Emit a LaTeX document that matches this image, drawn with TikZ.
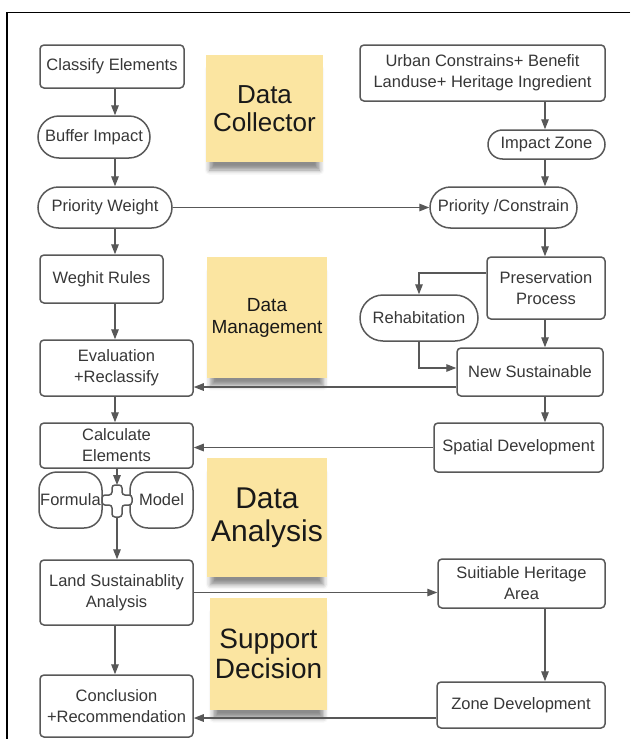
\documentclass[tikz,border=0pt]{standalone}
\usepackage{fontspec}
\setmainfont{Liberation Sans}
\usetikzlibrary{arrows.meta,shadows.blur}
\definecolor{edgegray}{RGB}{88,88,88}
\definecolor{textgray}{RGB}{55,55,55}
\definecolor{stickyyellow}{RGB}{251,229,161}

\begin{document}
\begin{tikzpicture}[x=1pt, y=-1pt,
		base/.style={draw=edgegray, line width=1.5pt, align=center, text=textgray, inner sep=1pt, font=\fontsize{16.5}{21}\selectfont},
		box/.style={base, rounded corners=4pt},
		pill/.style={base, rounded corners=#1},
		pill/.default=20.5pt,
		note/.style={fill=stickyyellow, align=center, text=black!90, inner sep=0pt,
			blur shadow={shadow xshift=0pt, shadow yshift=-12pt, shadow blur radius=5pt, shadow opacity=45, shadow scale=0.94}},
		link/.style={draw=edgegray, line width=1.4pt, -{Triangle[length=10pt, width=7.5pt]}},
	]
	\useasboundingbox (0,0) rectangle (630,739);
	\draw[line width=1.6pt] (630,12.5) -- (7,12.5) -- (7,739);

	% sticky notes
	\node[note, minimum width=117pt, minimum height=107pt, font=\fontsize{26}{28}\selectfont] (collector) at (264.5,108.5) {Data\\Collector};
	\node[note, minimum width=120pt, minimum height=121pt, font=\fontsize{19}{22}\selectfont] (management) at (267,317.5) {Data\\Management};
	\node[note, minimum width=120pt, minimum height=119pt, font=\fontsize{30}{33}\selectfont] (analysis) at (267,517.5) {Data\\Analysis};
	\node[note, minimum width=117pt, minimum height=112pt, font=\fontsize{28}{30}\selectfont] (support) at (268.5,654) {Support\\Decision};

	\node[box, minimum width=144pt, minimum height=43pt] (classify) at (112,66.5) {Classify Elements};
	\node[pill=21pt, minimum width=112pt, minimum height=42pt] (buffer) at (94,137) {Buffer Impact};
	\node[pill, minimum width=134pt, minimum height=41pt] (prioW) at (105,207.5) {Priority Weight};
	\node[box, minimum width=123pt, minimum height=48pt] (rules) at (101.5,279) {Weghit Rules};
	\node[box, minimum width=153pt, minimum height=56pt] (evaluation) at (116.5,368) {Evaluation\\+Reclassify};
	\node[box, minimum width=153pt, minimum height=45pt] (calculate) at (116.5,445.5) {Calculate\\Elements};
	\node[base, rounded corners=18pt, minimum width=63pt, minimum height=56pt, inner sep=0pt] (formula) at (70.5,500) {Formula};
	\node[base, rounded corners=18pt, minimum width=63pt, minimum height=56pt, inner sep=0pt] (model) at (161.5,500) {Model};
	\node[box, minimum width=153pt, minimum height=65pt] (land) at (116.5,592.5) {Land Sustainablity\\Analysis};
	\node[box, minimum width=153pt, minimum height=62pt] (conclusion) at (116.5,706) {Conclusion\\+Recommendation};

	\node[box, minimum width=245pt, minimum height=56pt] (urban) at (482.5,73) {Urban Constrains+ Benefit\\Landuse+ Heritage Ingredient};
	\node[pill=14.5pt, minimum width=117pt, minimum height=29pt] (impact) at (546.5,144.5) {Impact Zone};
	\node[pill, minimum width=147pt, minimum height=41pt] (prioC) at (503.5,207.5) {Priority /Constrain};
	\node[box, minimum width=118pt, minimum height=62pt] (preservation) at (546,288) {Preservation\\Process};
	\node[pill=23pt, minimum width=118pt, minimum height=46pt] (rehab) at (419,318) {Rehabitation};
	\node[box, minimum width=146pt, minimum height=48pt] (newsus) at (530,372) {New Sustainable};
	\node[box, minimum width=169pt, minimum height=49pt] (spatial) at (518.5,447.5) {Spatial Development};
	\node[box, minimum width=167pt, minimum height=49pt] (suitable) at (521.5,583.5) {Suitiable Heritage\\Area};
	\node[box, minimum width=168pt, minimum height=46pt] (zone) at (521,705) {Zone Development};

	\coordinate (lx) at (115,0);
	\coordinate (rx) at (545,0);
	\coordinate (hub) at (117,500);

	% junction between formula and model
	\draw[draw=edgegray, line width=1.5pt, fill=white, rounded corners=3pt] (hub) ++(-5,-15) -- ++(10,0) -- ++(0,10) -- ++(10,0) -- ++(0,10) -- ++(-10,0) -- ++(0,12) -- ++(-10,0) -- ++(0,-12) -- ++(-10,0) -- ++(0,-10) -- ++(10,0) -- cycle;

	\draw[link] (lx |- classify.south) -- (lx |- buffer.north);
	\draw[link] (lx |- buffer.south) -- (lx |- prioW.north);
	\draw[link] (lx |- prioW.south) -- (lx |- rules.north);
	\draw[link] (lx |- rules.south) -- (lx |- evaluation.north);
	\draw[link] (lx |- evaluation.south) -- (lx |- calculate.north);
	\draw[link] (hub |- calculate.south) -- ([yshift=15pt]hub);
	\draw[link] ([yshift=-17pt]hub) -- (hub |- land.north);
	\draw[link] (lx |- land.south) -- (lx |- conclusion.north);

	\draw[link] (rx |- urban.south) -- (rx |- impact.north);
	\draw[link] (rx |- impact.south) -- (rx |- prioC.north);
	\draw[link] (rx |- prioC.south) -- (rx |- preservation.north);
	\draw[link] (rx |- preservation.south) -- (rx |- newsus.north);
	\draw[link] (rx |- newsus.south) -- (rx |- spatial.north);
	\draw[link] (rx |- suitable.south) -- (rx |- zone.north);

	\draw[link] (prioW) -- (prioC);
	\draw[link] ([yshift=15pt]preservation.west) -| (rehab.north);
	\draw[link] (rehab.south) |- ([yshift=4pt]newsus.west);
	\draw[link] (newsus.west |- 0,387) -- (evaluation.east |- 0,387);
	\draw[link] (spatial.west) -- (calculate.east |- spatial.west);
	\draw[link] (land.east) -- (suitable.west |- land.east);
	\draw[link] (zone.west |- 0,718) -- (conclusion.east |- 0,718);
\end{tikzpicture}
\end{document}
